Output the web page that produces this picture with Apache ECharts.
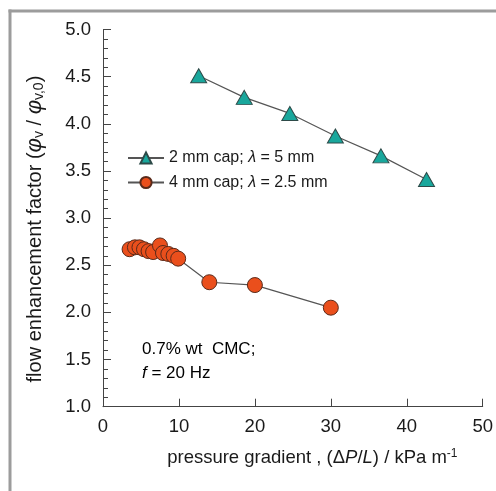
<!DOCTYPE html>
<html>
<head>
<meta charset="utf-8">
<script src="https://cdn.jsdelivr.net/npm/echarts@6/dist/echarts.min.js"></script>
<style>html,body{margin:0;padding:0;background:#fff}#c{width:496px;height:491px}</style>
</head>
<body>
<div id="c"></div>
<script>
// Data
const capTwoX = [12.6, 18.6, 24.6, 30.6, 36.6, 42.6];
const capTwoY = [4.51, 4.28, 4.11, 3.87, 3.66, 3.41];
const capFourX = [3.5, 4.2, 4.8, 5.4, 6.0, 6.6, 7.5, 7.9, 8.6, 9.3, 9.9, 14.0, 20.0, 30.0];
const capFourY = [2.67, 2.69, 2.69, 2.67, 2.65, 2.64, 2.71, 2.63, 2.62, 2.60, 2.57, 2.32, 2.29, 2.05];
const xTicks = [0, 10, 20, 30, 40, 50];
const yTicks = [1.0, 1.5, 2.0, 2.5, 3.0, 3.5, 4.0, 4.5, 5.0];

const font = 'Liberation Sans, Arial, Helvetica, sans-serif';
const ink = '#1a1a1a';
const chart = echarts.init(document.getElementById('c'));
const pair = (xs, ys) => xs.map((x, i) => [x, ys[i]]);

chart.setOption({
  animation: false,
  backgroundColor: '#fff',
  grid: { left: 103, right: 13, top: 29.5, bottom: 84.3 },
  xAxis: {
    type: 'value', min: xTicks[0], max: xTicks[xTicks.length - 1], interval: 10,
    axisLine: { lineStyle: { color: '#444', width: 1 } },
    axisTick: { inside: true, length: 8, lineStyle: { color: '#444' } },
    splitLine: { show: false },
    axisLabel: { fontFamily: font, fontSize: 18.5, color: ink, margin: 11 },
    name: '{n|pressure gradient , (Δ}{i|P}{n|/}{i|L}{n|) / kPa m}{s|-1}',
    nameLocation: 'middle', nameGap: 41,
    nameTextStyle: {
      padding: [0, 0, 0, 39],
      rich: {
        n: { fontFamily: font, fontSize: 18.5, color: ink },
        i: { fontFamily: font, fontSize: 18.5, color: ink, fontStyle: 'italic' },
        s: { fontFamily: font, fontSize: 12, color: ink, verticalAlign: 'top', padding: [0, 0, 9, 0] }
      }
    }
  },
  yAxis: {
    type: 'value', min: yTicks[0], max: yTicks[yTicks.length - 1], interval: 0.5,
    axisLine: { show: true, lineStyle: { color: '#444', width: 1 } },
    axisTick: { inside: true, length: 8, lineStyle: { color: '#444' } },
    minorTick: { show: true, splitNumber: 5, length: 5, lineStyle: { color: '#444' } },
    splitLine: { show: false },
    axisLabel: { fontFamily: font, fontSize: 18.5, color: ink, margin: 12,
      formatter: v => v.toFixed(1) },
    name: '{n|flow enhancement factor (}{i|φ}{b|v}{n| / }{i|φ}{b|v,0}{n|)}',
    nameLocation: 'middle', nameGap: 57,
    nameTextStyle: {
      padding: [0, 22, 0, 0],
      rich: {
        n: { fontFamily: font, fontSize: 20, color: ink },
        i: { fontFamily: font, fontSize: 22, color: ink, fontStyle: 'italic' },
        b: { fontFamily: font, fontSize: 14, color: ink, verticalAlign: 'bottom', padding: [8, 0, 0, 0] }
      }
    }
  },
  legend: {
    orient: 'vertical', left: 127, top: 150, padding: 0,
    itemWidth: 36, itemHeight: 14, itemGap: 8.5,
    textStyle: {
      fontFamily: font, fontSize: 16, color: ink,
      rich: {
        n: { fontFamily: font, fontSize: 16, color: ink },
        i: { fontFamily: font, fontSize: 16, color: ink, fontStyle: 'italic' }
      }
    },
    formatter: name => name === 'a' ? '{n|2 mm cap; }{i|λ}{n| = 5 mm}' : '{n|4 mm cap; }{i|λ}{n| = 2.5 mm}',
    data: ['a', 'b']
  },
  graphic: [
    { type: 'line', shape: { x1: 8.5, y1: 11, x2: 496, y2: 11 }, style: { stroke: '#9c9c9c', lineWidth: 3 } },
    { type: 'line', shape: { x1: 10, y1: 9.5, x2: 10, y2: 491 }, style: { stroke: '#9c9c9c', lineWidth: 3 } },
    { type: 'text', left: 142, top: 341, style: {
      text: '{n|0.7% wt  CMC;}\n{i|f}{n| = 20 Hz}',
      rich: {
        n: { fontFamily: font, fontSize: 17, color: ink, lineHeight: 24 },
        i: { fontFamily: font, fontSize: 17, color: ink, fontStyle: 'italic', lineHeight: 24 }
      }
    } }
  ],
  series: [
    {
      name: 'a', type: 'line', data: pair(capTwoX, capTwoY),
      symbol: 'triangle', symbolSize: [16, 14],
      itemStyle: { color: '#19a79c', borderColor: '#2d4a48', borderWidth: 1 },
      lineStyle: { color: '#555', width: 1.2 }
    },
    {
      name: 'b', type: 'line', data: pair(capFourX, capFourY),
      symbol: 'circle', symbolSize: 15,
      itemStyle: { color: '#ea4f1c', borderColor: '#5a2a1a', borderWidth: 1 },
      lineStyle: { color: '#555', width: 1.2 }
    }
  ]
});
</script>
</body>
</html>
